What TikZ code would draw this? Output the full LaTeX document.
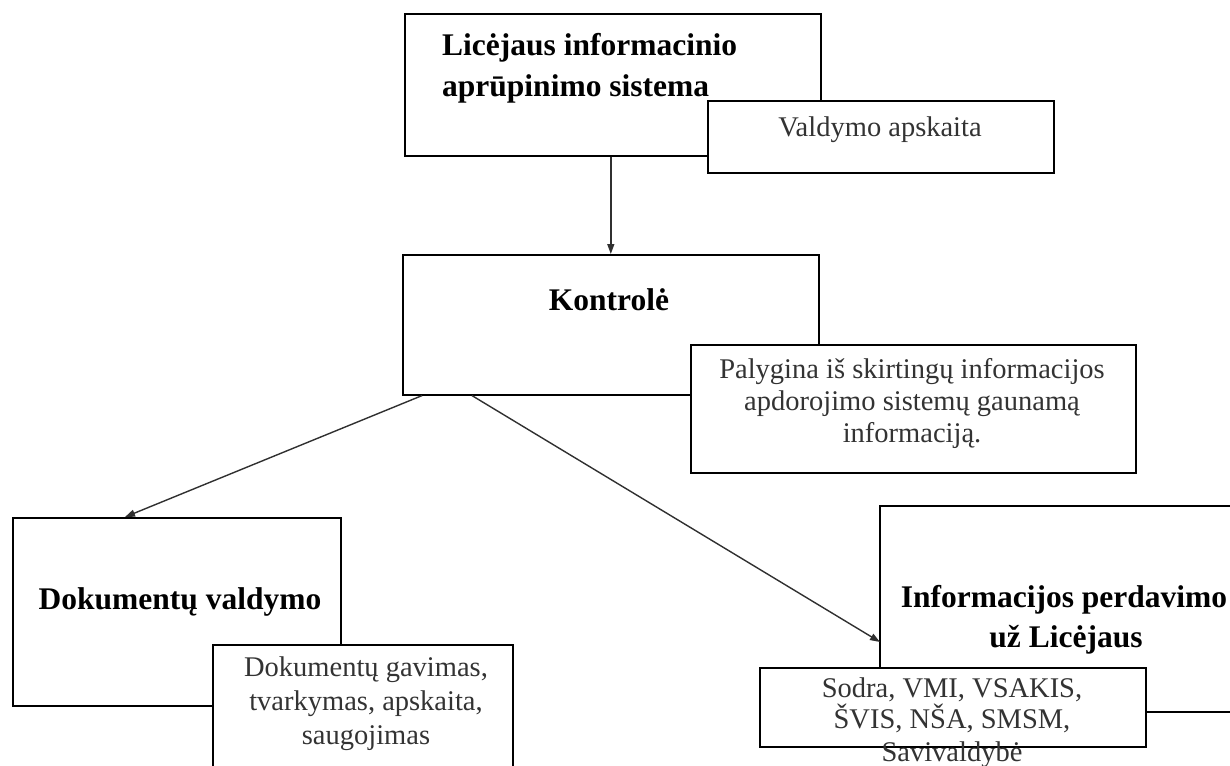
\documentclass[tikz,border=0pt]{standalone}
\usepackage{fontspec}
\setmainfont{Liberation Serif}
\usetikzlibrary{arrows.meta,calc}
\definecolor{txt}{HTML}{333333}
\definecolor{ln}{HTML}{303030}
\begin{document}
\begin{tikzpicture}[x=1pt,y=-1pt,
  box/.style={draw=black,line width=1.6pt,fill=white,inner sep=0pt,anchor=north west},
  ttl/.style={font=\fontsize{31.5}{40}\selectfont\bfseries,text=black,inner sep=0pt},
  sml/.style={font=\fontsize{28.5}{32}\selectfont,text=txt,inner sep=0pt},
  arr/.style={draw=ln,line width=1.4pt,-{Triangle[length=10pt,width=7pt]}}]
\useasboundingbox (0,0) rectangle (1230,765);
\clip (0,0) rectangle (1230,765);
% top box
\node[box,minimum width=416pt,minimum height=142pt] (top) at (404,13) {};
\node[ttl,anchor=base west] (t1) at (442,56) {Licėjaus informacinio};
\node[ttl,anchor=base west] (t2) at (442,97) {aprūpinimo sistema};
\node[box,minimum width=346pt,minimum height=72pt] (val) at (707,100) {};
\node[sml,anchor=base] (v1) at (880,136) {Valdymo apskaita};
% Kontrole
\node[box,minimum width=416pt,minimum height=140pt] (kon) at (402,254) {};
\node[ttl,anchor=base] (k1) at (609,310) {Kontrolė};
\node[box,minimum width=445pt,minimum height=128pt] (pal) at (690,344) {};
\node[sml,anchor=base] (p1) at (912,378) {Palygina iš skirtingų informacijos};
\node[sml,anchor=base] (p2) at (912,410) {apdorojimo sistemų gaunamą};
\node[sml,anchor=base] (p3) at (912,442) {informaciją.};
% Dokumentu valdymo
\node[box,minimum width=328pt,minimum height=188pt] (dok) at (12,517) {};
\node[ttl,anchor=base] (d1) at (180,609) {Dokumentų valdymo};
\node[box,minimum width=300pt,minimum height=200pt] (gav) at (212,644) {};
\node[sml,anchor=base] (g1) at (366,676) {Dokumentų gavimas,};
\node[sml,anchor=base] (g2) at (366,710) {tvarkymas, apskaita,};
\node[sml,anchor=base] (g3) at (366,744) {saugojimas};
% Informacijos perdavimo
\node[box,minimum width=372pt,minimum height=206pt] (inf) at (879,505) {};
\node[ttl,anchor=base] (i1) at (1064,607) {Informacijos perdavimo};
\node[ttl,anchor=base] (i2) at (1066,647) {už Licėjaus};
\node[box,minimum width=386pt,minimum height=79pt] (sod) at (759,667) {};
\node[sml,anchor=base] (s1) at (952,697) {Sodra, VMI, VSAKIS,};
\node[sml,anchor=base] (s2) at (952,728) {ŠVIS, NŠA, SMSM,};
\node[sml,anchor=base] (s3) at (952,761) {Savivaldybė};
% connectors
\coordinate (a0) at (kon.north |- top.south);
\draw[arr] (a0) -- (kon.north);
\coordinate (b0) at ($(kon.south west)+(20,0)$);
\coordinate (b1) at ($(dok.north west)+(113,0)$);
\draw[arr] (b0) -- (b1);
\coordinate (c0) at ($(kon.south west)+(70,0)$);
\coordinate (c1) at ($(inf.north west)+(1,137)$);
\draw[arr] (c0) -- (c1);
\end{tikzpicture}
\end{document}
